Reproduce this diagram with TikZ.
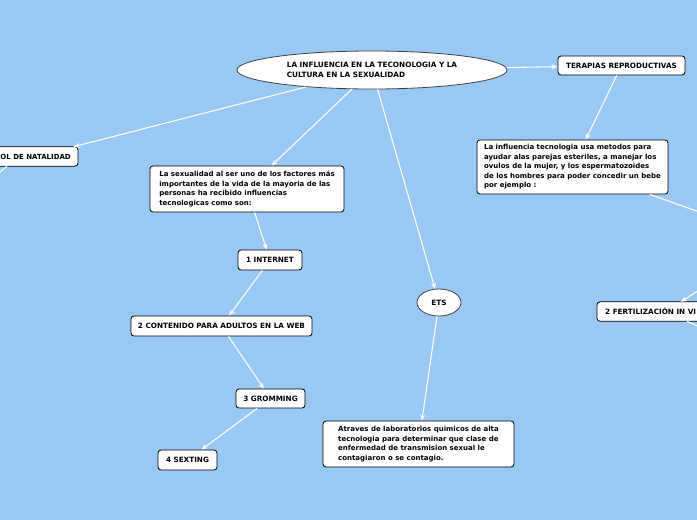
\documentclass[tikz,border=0pt]{standalone}
\usepackage{fontspec}
\setmainfont{DejaVu Sans}
\usetikzlibrary{shapes.geometric,arrows.meta,calc,backgrounds}
\definecolor{bgblue}{RGB}{153,200,244}
\tikzset{
  box/.style={draw=black, line width=0.8pt, fill=white, rounded corners=3pt,
    inner sep=0pt, align=left, font=\fontsize{7.25}{9.5}\selectfont\bfseries},
  frame/.style={draw=black, line width=0.8pt, fill=white, rounded corners=3pt},
  bare/.style={inner ysep=0pt, inner xsep=8pt, align=left, font=\fontsize{7.25}{9.5}\selectfont\bfseries},
  body/.style={font=\fontsize{7}{9.5}\selectfont\bfseries},
  oval/.style={ellipse, draw=black!75, line width=0.8pt, fill=white, inner sep=0pt,
    align=left, font=\fontsize{7.3}{9.5}\selectfont\bfseries},
  conn/.style={draw=white, line width=1.1pt, -{Stealth[length=6pt,width=5pt]}}
}
\begin{document}
\begin{tikzpicture}[x=1pt,y=-1pt]
\useasboundingbox (0,0) rectangle (697,520);
\clip (0,0) rectangle (697,520);

\node[oval, minimum width=270pt, minimum height=38pt] (root) at (372,70)
  {LA INFLUENCIA EN LA TECONOLOGIA Y LA\\CULTURA EN LA SEXUALIDAD};

\node[bare, body, anchor=east, minimum height=19pt, inner xsep=7pt] (ctrl) at (78,156.5) {OL DE NATALIDAD};

\node[box, body, minimum width=194pt, minimum height=46pt] (sex) at (247,189)
  {La sexualidad al ser uno de los factores más\\importantes de la vida de la mayoria de las\\personas ha recibido influencias\\tecnologicas como son:};

\node[box, minimum width=64pt, minimum height=20pt] (inter) at (270,260) {1 INTERNET};
\node[box, minimum width=181pt, minimum height=20pt] (cont) at (221.5,326) {2 CONTENIDO PARA ADULTOS EN LA WEB};
\node[box, minimum width=69pt, minimum height=19pt] (grom) at (270.5,398.5) {3 GROMMING};
\node[box, minimum width=59pt, minimum height=20pt] (sext) at (187.5,460) {4 SEXTING};

\node[oval, minimum width=44pt, minimum height=27pt] (ets) at (439,302.5) {ETS};

\node[box, body, minimum width=191pt, minimum height=46pt] (atr) at (418.5,444)
  {Atraves de laboratorios quimicos de alta\\tecnologia para determinar que clase de\\enfermedad de transmision sexual le\\contagiaron o se contagio.};

\node[box, minimum width=127pt, minimum height=19pt] (ter) at (621.5,65.5) {TERAPIAS REPRODUCTIVAS};

\node[box, body, minimum width=191pt, minimum height=54pt] (infl) at (572.5,167)
  {La influencia tecnologia usa metodos para\\ayudar alas parejas esteriles, a manejar los\\ovulos de la mujer, y los espermatozoides\\de los hombres para poder concedir un bebe\\por ejemplo :};

\node[bare, anchor=west, minimum height=19pt] (fert) at (597,311.5) {2 FERTILIZACIÓN IN VI};

\begin{scope}[on background layer]
  \fill[bgblue] (0,0) rectangle (697,520);
  \path[frame] ([xshift=-60pt]ctrl.south west) rectangle (ctrl.north east);
  \path[frame] (fert.south west) rectangle ([xshift=80pt]fert.north east);
\end{scope}

\coordinate (offR1) at (787,243);
\coordinate (offR2) at (761,250);
\coordinate (offR3) at (760,355);
\coordinate (offL) at (-40,205);
\coordinate (fertIn) at ([xshift=84pt]fert.north west);
\coordinate (fertOut) at ([xshift=90pt]fert.south west);
\coordinate (ctrlOut) at ([xshift=-71pt]ctrl.south east);

\draw[conn] (root) -- (ctrl);
\draw[conn] (root) -- (sex);
\draw[conn] (root) -- (ets);
\draw[conn] (root) -- (ter);
\draw[conn] (ter) -- (infl);
\draw[conn] (infl) -- (offR1);
\draw[conn] (offR2) -- (fertIn);
\draw[conn] (fertOut) -- (offR3);
\draw[conn] (ctrlOut) -- (offL);
\draw[conn] (sex) -- (inter);
\draw[conn] (inter) -- (cont);
\draw[conn] (cont) -- (grom);
\draw[conn] (grom) -- (sext);
\draw[conn] (ets) -- (atr);
\end{tikzpicture}
\end{document}
